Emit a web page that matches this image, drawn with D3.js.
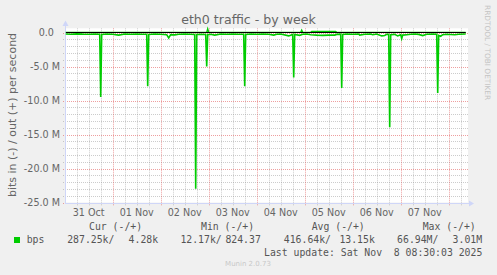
<!DOCTYPE html>
<html>
<head>
<meta charset="utf-8">
<script src="https://cdn.jsdelivr.net/npm/d3@7"></script>
<style>
  html, body { margin: 0; padding: 0; background: #f0f0f0; }
  svg { display: block; }
  text { font-family: "DejaVu Sans", sans-serif; fill: #666; }
  .mono { font-family: "DejaVu Sans Mono", monospace; fill: #555; }
</style>
</head>
<body>
<div id="grafica"></div>
<script>
// textos
const title = "eth0 traffic - by week";
const yTitle = "bits in (-) / out (+) per second";
const dayLabels = ["31 Oct", "01 Nov", "02 Nov", "03 Nov", "04 Nov", "05 Nov", "06 Nov", "07 Nov"];
const yTicks = [0, -5, -10, -15, -20, -25];           // Mbit/s
const yTickLabels = ["0.0  ", "-5.0 M", "-10.0 M", "-15.0 M", "-20.0 M", "-25.0 M"];

// leyenda
const legendName = "bps";
const legendHeads = ["Cur (-/+)", "Min (-/+)", "Avg (-/+)", "Max (-/+)"];
const legendIn = ["287.25k/", "12.17k/", "416.64k/", "66.94M/"];
const legendOut = ["4.28k", "824.37", "13.15k", "3.01M"];
const lastUpdate = "Last update: Sat Nov  8 08:30:03 2025";
const munin = "Munin 2.0.73";
const rrd = "RRDTOOL / TOBI OETIKER";

// datos: [horas desde 31 Oct 00:00, Mbit/s]  (in negativo)
const bitsIn = [
  [0.5, -0.22], [3, -0.25], [6, -0.20], [9, -0.24], [12, -0.25], [15, -0.22],
  [17.5, -0.25], [18, -9.47], [18.5, -0.28], [21, -0.22], [24, -0.25],
  [27, -0.38], [30, -0.22], [33, -0.25], [36, -0.22], [39, -0.25],
  [41, -0.25], [41.5, -7.9], [42, -0.28], [45, -0.22], [48, -0.25],
  [51, -0.32], [52, -0.80], [53, -0.32], [55, -0.35], [57, -0.25], [60, -0.22],
  [63, -0.25], [65, -0.28], [65.5, -22.96], [66, -0.28], [68, -0.25],
  [70.5, -0.28], [71, -5.0], [71.5, -0.32], [73, -0.25], [75, -0.38], [78, -0.22],
  [81, -0.25], [84, -0.22], [87, -0.25], [89.5, -0.25], [90, -7.9], [90.5, -0.28],
  [93, -0.22], [96, -0.25], [99, -0.22], [102, -0.25], [104.5, -0.38], [106, -0.25],
  [108, -0.22], [112, -0.50], [114, -0.28], [114.5, -6.6], [115, -0.28],
  [117.5, -0.42], [119, -0.25], [121, -0.22], [123, -0.32], [126, -0.38],
  [129, -0.42], [132, -0.38], [135, -0.38], [136, -0.28], [138, -0.25],
  [138.5, -8.15], [139, -0.28], [141, -0.22], [144, -0.25], [147, -0.22],
  [147.5, -0.38], [150, -0.25], [153, -0.22], [154, -0.32], [156, -0.22],
  [158.5, -0.50], [160, -0.45], [161, -0.28], [162, -0.28], [162.5, -13.93],
  [163, -0.32], [165, -0.28], [166.5, -0.50], [168, -0.32], [168.5, -0.90],
  [169, -0.38], [171, -0.32], [173, -0.25], [175, -0.22], [177, -0.28],
  [179, -0.45], [181, -0.25], [184, -0.22], [186, -0.25], [186.5, -8.9],
  [187, -0.42], [188, -0.55], [189, -0.32], [191, -0.25], [195, -0.32],
  [197, -0.25], [200.5, -0.22]
];

const bitsOut = [
  [0.5, 0.02], [71, 0.02], [71.5, 0.55], [72, 0.02], [118, 0.02], [118.5, 0.35],
  [119, 0.02], [123, 0.02], [123.5, 0.15], [135.5, 0.15], [136, 0.02], [200.5, 0.02]
];

const t0 = Date.UTC(2025, 9, 31);
const hora = h => new Date(t0 + h * 3600e3);

const W = 497, H = 275;
const plot = { left: 66, right: 468, top: 28.3, bottom: 202.5 };

const svg = d3.select("#grafica").append("svg")
  .attr("width", W)
  .attr("height", H);

svg.append("rect").attr("width", W).attr("height", H).attr("fill", "#f0f0f0");

// escalas
const xScale = d3.scaleUtc()
  .domain([hora(0.5), hora(200.5)])
  .range([65.7, 465.7]);

const yScale = d3.scaleLinear()
  .domain([-25, 0])
  .range([202.5, 32.5]);

// lienzo
svg.append("rect")
  .attr("x", plot.left).attr("y", plot.top)
  .attr("width", plot.right - plot.left).attr("height", plot.bottom - plot.top)
  .attr("fill", "#fff");

const gridMinor = "rgba(143,143,143,0.45)";
const gridMajor = "rgba(224,80,80,0.55)";

// rejilla horizontal
const yMinor = d3.range(-25, 0.1, 1).filter(v => v % 5 !== 0);
svg.append("g").selectAll("line").data(yMinor).enter().append("line")
  .attr("x1", plot.left - 3).attr("x2", plot.right)
  .attr("y1", d => Math.round(yScale(d)) + 0.5).attr("y2", d => Math.round(yScale(d)) + 0.5)
  .attr("stroke", gridMinor).attr("stroke-dasharray", "1,1");

// rejilla vertical
const [tStart, tEnd] = xScale.domain();
const xMinor = d3.utcHour.every(6).range(tStart, tEnd).filter(d => d.getUTCHours() !== 0);
const xMajor = d3.utcDay.range(tStart, tEnd);
svg.append("g").selectAll("line").data(xMinor).enter().append("line")
  .attr("x1", d => Math.round(xScale(d)) + 0.5).attr("x2", d => Math.round(xScale(d)) + 0.5)
  .attr("y1", plot.top).attr("y2", plot.bottom + 3)
  .attr("stroke", gridMinor).attr("stroke-dasharray", "1,1");

svg.append("g").selectAll("line").data(yTicks).enter().append("line")
  .attr("x1", plot.left - 3).attr("x2", plot.right)
  .attr("y1", d => Math.round(yScale(d)) + 0.5).attr("y2", d => Math.round(yScale(d)) + 0.5)
  .attr("stroke", gridMajor).attr("stroke-dasharray", "1,1");

svg.append("g").selectAll("line").data(xMajor).enter().append("line")
  .attr("x1", d => Math.round(xScale(d)) + 0.5).attr("x2", d => Math.round(xScale(d)) + 0.5)
  .attr("y1", plot.top).attr("y2", plot.bottom + 3.5)
  .attr("stroke", gridMajor).attr("stroke-dasharray", "1,1");

// ejes
const axisColor = "#cfd6f8";
svg.append("line")
  .attr("x1", plot.left - 0.5).attr("x2", plot.left - 0.5)
  .attr("y1", plot.bottom + 1).attr("y2", 23)
  .attr("stroke", axisColor);
svg.append("line")
  .attr("x1", plot.left - 1).attr("x2", plot.right + 2)
  .attr("y1", plot.bottom + 1).attr("y2", plot.bottom + 1)
  .attr("stroke", axisColor);
svg.append("path")
  .attr("d", `M${plot.left - 3.5},26 L${plot.left + 2.5},26 L${plot.left - 0.5},20.5 Z`)
  .attr("fill", axisColor);
svg.append("path")
  .attr("d", `M${plot.right + 1},${plot.bottom - 2} L${plot.right + 1},${plot.bottom + 4} L${plot.right + 6},${plot.bottom + 1} Z`)
  .attr("fill", axisColor);

// lineas de datos
const line = d3.line()
  .x(d => xScale(hora(d[0])))
  .y(d => yScale(d[1]));

svg.append("path")
  .attr("d", line(bitsIn))
  .attr("fill", "none")
  .attr("stroke", "#00cc00")
  .attr("stroke-width", 1.6);

svg.append("path")
  .attr("d", line(bitsOut))
  .attr("fill", "none")
  .attr("stroke", "#00cc00")
  .attr("stroke-width", 1.4);

// linea de cero
svg.append("line")
  .attr("x1", plot.left).attr("x2", xScale.range()[1])
  .attr("y1", yScale(0)).attr("y2", yScale(0))
  .attr("stroke", "#000").attr("stroke-width", 1);

// etiquetas eje Y
svg.append("g").selectAll("text").data(yTicks).enter().append("text")
  .attr("x", 60)
  .attr("y", d => yScale(d) + 3.5)
  .attr("text-anchor", "end")
  .attr("xml:space", "preserve")
  .style("white-space", "pre")
  .style("font-size", "9.6px")
  .text((d, i) => yTickLabels[i]);

// etiquetas eje X (mediodia de cada dia)
svg.append("g").selectAll("text").data(dayLabels).enter().append("text")
  .attr("x", (d, i) => xScale(d3.utcHour.offset(xMajor[0], -12 + 24 * i)))
  .attr("y", 216)
  .attr("text-anchor", "middle")
  .style("font-size", "9.6px")
  .text(d => d);

// titulo
svg.append("text")
  .attr("x", W / 2).attr("y", 24)
  .attr("text-anchor", "middle")
  .style("font-size", "12.6px")
  .text(title);

svg.append("text")
  .attr("transform", "translate(16,115) rotate(-90)")
  .attr("text-anchor", "middle")
  .style("font-size", "11px")
  .text(yTitle);

svg.append("text")
  .attr("transform", "translate(484.5,5) rotate(90)")
  .style("font-size", "7.4px")
  .style("fill", "#c4c4c4")
  .text(rrd);

// leyenda
const headX = [89, 201, 311.7, 422.7];
const inX = [114.4, 221.7, 331, 438.4];
const outX = [158.1, 260.8, 374.8, 482.1];

svg.append("g").selectAll("text").data(legendHeads).enter().append("text")
  .attr("class", "mono")
  .attr("x", (d, i) => headX[i]).attr("y", 230)
  .style("font-size", "9.8px")
  .text(d => d);

svg.append("rect")
  .attr("x", 14).attr("y", 237).attr("width", 6).attr("height", 6)
  .attr("fill", "#00cc00");

svg.append("text").attr("class", "mono")
  .attr("x", 26.7).attr("y", 243)
  .style("font-size", "9.8px")
  .text(legendName);

svg.append("g").selectAll("text").data(legendIn).enter().append("text")
  .attr("class", "mono")
  .attr("x", (d, i) => inX[i]).attr("y", 243)
  .attr("text-anchor", "end")
  .style("font-size", "9.8px")
  .text(d => d);

svg.append("g").selectAll("text").data(legendOut).enter().append("text")
  .attr("class", "mono")
  .attr("x", (d, i) => outX[i]).attr("y", 243)
  .attr("text-anchor", "end")
  .style("font-size", "9.8px")
  .text(d => d);

svg.append("text").attr("class", "mono")
  .attr("x", 482.3).attr("y", 255.5)
  .attr("text-anchor", "end")
  .attr("xml:space", "preserve")
  .style("white-space", "pre")
  .style("font-size", "9.8px")
  .text(lastUpdate);

svg.append("text")
  .attr("x", 248).attr("y", 266)
  .attr("text-anchor", "middle")
  .style("font-size", "7px")
  .style("fill", "#c8c8c8")
  .text(munin);
</script>
</body>
</html>
